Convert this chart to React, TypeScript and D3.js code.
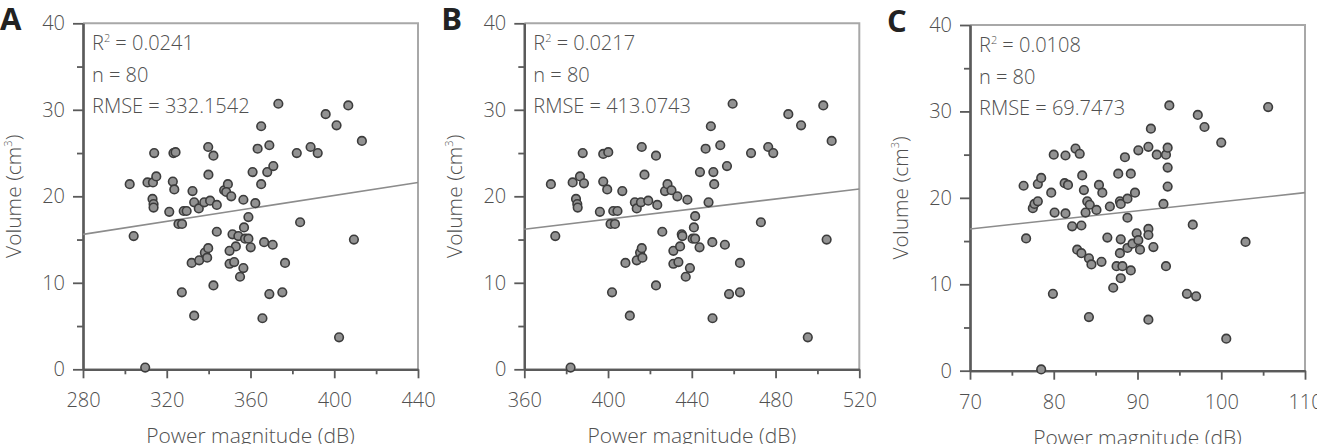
import * as d3 from 'd3'
import { useEffect, useRef } from 'react'

// power magnitude (dB) vs. volume (cm3), one pair of arrays per panel
const powerA = [302.3, 304.2, 309.7, 310.8, 313.4, 315.0, 314.0, 313.2, 313.7, 313.7, 321.2, 322.9, 323.6, 323.2, 324.2, 325.6, 327.3, 328.1, 329.5, 327.2,
  332.3, 333.1, 335.3, 337.9, 340.7, 343.9, 331.9, 335.5, 338.2, 339.8, 339.3, 333.1, 339.8, 342.3, 339.9, 343.9, 342.3, 347.4, 349.2, 348.4,
  350.8, 351.4, 353.0, 350.0, 350.0, 352.2, 354.2, 356.9, 357.4, 359.0, 359.0, 356.6, 360.1, 356.6, 355.0, 361.0, 362.3, 363.4, 365.1, 365.1,
  365.7, 366.5, 369.0, 368.0, 370.9, 370.6, 369.0, 373.3, 375.2, 376.5, 382.1, 383.7, 388.7, 392.1, 395.9, 401.1, 402.3, 406.7, 409.4, 413.2]
const volumeA = [21.4, 15.4, 0.2, 21.6, 21.6, 22.3, 25.0, 19.7, 19.1, 18.7, 18.2, 21.7, 20.8, 25.0, 25.1, 16.8, 16.8, 18.3, 18.3, 8.9,
  20.6, 19.3, 18.6, 19.3, 19.5, 19.0, 12.3, 12.6, 13.5, 14.0, 12.9, 6.2, 25.7, 24.7, 22.5, 15.9, 9.7, 20.7, 21.4, 20.5,
  20.0, 15.6, 14.2, 13.7, 12.2, 12.4, 15.4, 16.4, 15.1, 15.1, 17.6, 19.6, 14.1, 11.7, 10.7, 22.8, 19.2, 25.5, 28.1, 21.4,
  5.9, 14.7, 25.9, 22.8, 23.5, 14.4, 8.7, 30.7, 8.9, 12.3, 25.0, 17.0, 25.7, 25.0, 29.5, 28.2, 3.7, 30.5, 15.0, 26.4]

const powerB = [372.7, 374.8, 382.1, 383.1, 384.7, 385.3, 385.5, 386.6, 387.9, 388.5, 396.1, 397.7, 399.6, 397.7, 400.1, 401.2, 403.3, 402.5, 404.5, 401.9,
  406.8, 408.3, 410.4, 412.8, 413.7, 415.7, 413.7, 415.3, 416.1, 416.4, 416.1, 417.4, 419.2, 422.9, 422.9, 423.5, 425.9, 427.2, 428.4, 430.3,
  431.2, 431.2, 433.1, 433.6, 434.4, 435.2, 435.5, 437.1, 437.9, 439.1, 440.4, 441.0, 441.6, 441.6, 443.7, 443.9, 446.6, 448.0, 449.1, 449.8,
  449.9, 450.3, 450.7, 453.6, 456.8, 455.8, 457.8, 459.5, 463.0, 463.0, 468.3, 473.0, 476.5, 478.9, 486.1, 492.2, 495.4, 502.8, 504.4, 506.8]
const volumeB = [21.4, 15.4, 0.2, 21.6, 19.7, 19.1, 18.7, 22.3, 25.0, 21.5, 18.2, 21.7, 20.8, 24.9, 25.1, 16.8, 16.8, 18.3, 18.3, 8.9,
  20.6, 12.3, 6.2, 19.3, 18.6, 19.3, 12.6, 13.5, 14.0, 12.9, 25.7, 22.5, 19.5, 24.7, 9.7, 19.0, 15.9, 20.6, 21.4, 20.7,
  13.7, 12.2, 20.0, 12.4, 14.2, 15.6, 15.4, 10.7, 19.6, 11.7, 15.1, 16.4, 15.1, 17.7, 14.1, 22.8, 25.5, 19.3, 28.1, 14.7,
  5.9, 22.8, 21.4, 25.9, 23.5, 14.4, 8.7, 30.7, 12.3, 8.9, 25.0, 17.0, 25.7, 25.0, 29.5, 28.2, 3.7, 30.5, 15.0, 26.4]

const powerC = [76.4, 76.7, 78.5, 77.5, 77.7, 78.1, 78.1, 78.5, 79.7, 79.9, 80.0, 80.1, 81.4, 81.4, 81.3, 81.7, 82.2, 82.6, 83.1, 83.3,
  82.8, 83.3, 83.4, 83.6, 83.8, 84.0, 84.2, 84.5, 84.2, 84.3, 85.1, 85.4, 85.8, 85.7, 86.4, 86.7, 87.1, 87.5, 87.7, 87.9,
  88.0, 88.0, 87.9, 88.2, 88.0, 88.5, 88.8, 88.8, 88.8, 89.2, 89.2, 89.4, 89.7, 89.9, 90.1, 90.1, 90.3, 91.3, 91.3, 91.3,
  91.3, 91.6, 91.9, 92.3, 93.1, 93.4, 93.6, 93.6, 93.6, 93.4, 93.8, 95.9, 96.6, 97.0, 97.2, 98.0, 100.0, 100.6, 102.9, 105.6]
const volumeC = [21.4, 15.3, 0.15, 18.8, 19.3, 19.6, 21.6, 22.3, 20.6, 8.9, 25.0, 18.3, 18.2, 24.9, 21.7, 21.5, 16.7, 25.7, 25.1, 16.8,
  14.0, 13.6, 22.6, 20.9, 18.3, 19.6, 13.0, 12.3, 6.2, 19.2, 18.6, 21.5, 20.6, 12.6, 15.4, 19.0, 9.6, 12.1, 22.8, 19.6,
  19.3, 15.2, 13.6, 12.1, 10.7, 24.7, 19.9, 17.7, 14.2, 11.6, 22.8, 14.7, 20.6, 15.9, 25.5, 15.1, 14.0, 25.9, 16.4, 15.7,
  5.9, 28.0, 14.3, 25.0, 19.3, 25.0, 25.8, 23.5, 21.3, 12.1, 30.7, 8.9, 16.9, 8.6, 29.6, 28.2, 26.4, 3.7, 14.9, 30.5]

// fitted lines, given as [x, volume] at both ends of the x range
const fitA = [[280, 15.6], [440, 21.6]]
const fitB = [[360, 16.2], [520, 20.85]]
const fitC = [[70, 16.4], [110, 20.6]]

const statsA = ['0.0241', '80', '332.1542']
const statsB = ['0.0217', '80', '413.0743']
const statsC = ['0.0108', '80', '69.7473']

const xTicksA = [280, 320, 360, 400, 440]
const xTicksB = [360, 400, 440, 480, 520]
const xTicksC = [70, 80, 90, 100, 110]
const yTicks = [0, 10, 20, 30, 40]
const yMinor = [5, 15, 25, 35]

const FONT = "'Open Sans', 'Noto Sans', sans-serif"
const LABEL_WEIGHT = 300

type PanelProps = {
  letter: string
  left: number
  top: number
  bottom: number
  power: number[]
  volume: number[]
  fit: number[][]
  stats: string[]
  xTicks: number[]
}

function Panel({letter, left, top, bottom, power, volume, fit, stats, xTicks}: PanelProps){
  const gRef = useRef<SVGGElement>(null)

  useEffect(() => {
    makePanel()
  }, [])

  function makePanel(){
    const width = 335
    const g = d3.select(gRef.current)
    g.selectAll('*').remove()

    const step = xTicks[1] - xTicks[0]
    const xScale = d3.scaleLinear().domain([xTicks[0], xTicks[xTicks.length - 1]]).range([left, left + width])
    const yScale = d3.scaleLinear().domain([0, 40]).range([bottom, top])
    const xMinor = xTicks.slice(0, -1).map(t => t + step / 2)

    // frame: top and right in light grey
    g.append('path')
      .attr('d', `M${left},${top}H${left + width}V${bottom}`)
      .attr('fill', 'none').attr('stroke', '#a8a8a8').attr('stroke-width', 2)

    const styleAxis = (sel: any) => {
      sel.selectAll('.domain').attr('stroke', '#5a5a5a').attr('stroke-width', 2.2)
      sel.selectAll('.tick line').attr('stroke', '#5a5a5a').attr('stroke-width', 1.8)
      sel.selectAll('.tick text').attr('fill', '#505050').attr('font-size', 20)
        .attr('font-family', FONT).attr('font-weight', LABEL_WEIGHT)
    }

    g.append('g').attr('transform', `translate(${left},0)`)
      .call(d3.axisLeft(yScale).tickValues(yMinor).tickSize(6).tickSizeOuter(0).tickFormat(() => ''))
      .call(styleAxis)
    g.append('g').attr('transform', `translate(${left},0)`)
      .call(d3.axisLeft(yScale).tickValues(yTicks).tickSize(10).tickSizeOuter(0).tickPadding(8))
      .call(styleAxis)

    g.append('g').attr('transform', `translate(0,${bottom})`)
      .call(d3.axisBottom(xScale).tickValues(xMinor).tickSize(5).tickSizeOuter(0).tickFormat(() => ''))
      .call(styleAxis)
    g.append('g').attr('transform', `translate(0,${bottom})`)
      .call(d3.axisBottom(xScale).tickValues(xTicks).tickSize(9).tickSizeOuter(0).tickPadding(15))
      .call(styleAxis)

    // regression line
    const line = d3.line<number[]>().x(d => xScale(d[0])).y(d => yScale(d[1]))
    g.append('path').attr('d', line(fit))
      .attr('fill', 'none').attr('stroke', '#8c8c8c').attr('stroke-width', 1.6)

    g.append('g').selectAll('circle')
      .data(power.map((p, i) => [p, volume[i]]))
      .enter()
      .append('circle')
      .attr('cx', d => xScale(d[0]))
      .attr('cy', d => yScale(d[1]))
      .attr('r', 4.3)
      .attr('fill', '#929292')
      .attr('stroke', '#3c3c3c')
      .attr('stroke-width', 1.6)

    const txt = g.append('g').attr('font-family', FONT).attr('font-weight', LABEL_WEIGHT)
      .attr('font-size', 20).attr('fill', '#505050')
    const r2 = txt.append('text').attr('x', left + 9).attr('y', top + 27)
    r2.append('tspan').text('R')
    r2.append('tspan').attr('font-size', 11).attr('dy', -8).text('2')
    r2.append('tspan').attr('dy', 8).text(` = ${stats[0]}`)
    txt.append('text').attr('x', left + 9).attr('y', top + 59).text(`n = ${stats[1]}`)
    txt.append('text').attr('x', left + 9).attr('y', top + 90).text(`RMSE = ${stats[2]}`)

    const ylab = txt.append('text')
      .attr('transform', `translate(${left - 62},${(top + bottom) / 2}) rotate(-90)`)
      .attr('text-anchor', 'middle').attr('font-size', 21)
    ylab.append('tspan').text('Volume (cm')
    ylab.append('tspan').attr('font-size', 11).attr('dy', -9).text('3')
    ylab.append('tspan').attr('dy', 9).text(')')

    txt.append('text')
      .attr('x', left + width / 2).attr('y', bottom + 74)
      .attr('text-anchor', 'middle').attr('font-size', 21)
      .text('Power magnitude (dB)')

    g.append('text')
      .attr('x', left - 83).attr('y', top + 7)
      .attr('font-family', FONT).attr('font-size', 31).attr('font-weight', 700).attr('fill', '#222')
      .text(letter)
  }

  return <g ref={gRef}></g>
}

export default function App(){
  return (
    <svg width={1317} height={444} style={{position: 'absolute', left: 0, top: 0, background: '#fff'}}>
      <Panel letter="A" left={83} top={23.3} bottom={369.3} power={powerA} volume={volumeA} fit={fitA} stats={statsA} xTicks={xTicksA} />
      <Panel letter="B" left={524.3} top={23.3} bottom={369.3} power={powerB} volume={volumeB} fit={fitB} stats={statsB} xTicks={xTicksB} />
      <Panel letter="C" left={970} top={25} bottom={370.7} power={powerC} volume={volumeC} fit={fitC} stats={statsC} xTicks={xTicksC} />
    </svg>
  )
}
